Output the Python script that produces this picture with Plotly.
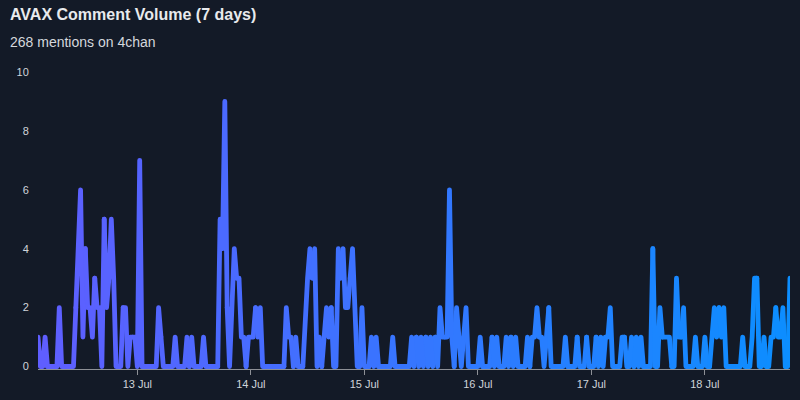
import plotly.graph_objects as go
import pandas as pd

# ---- data (30-minute bins) ----
start_time = "2025-07-12 03:00"
bin_freq = "30min"
values = [
    1, 0, 0, 1, 0, 0, 0, 0, 0, 2, 0, 0, 0, 0, 0, 0,          # k0-15
    2, 4, 6, 1, 4, 2, 2, 1, 3, 2, 2, 0, 5, 2, 3, 5, 3, 0,     # k16-33
    0, 0, 2, 2, 0, 1, 1, 1, 0, 7,                             # k34-43
    0, 0, 0, 0, 0, 0, 0, 2, 1, 0, 0, 0, 0, 0, 1,              # k44-58
    0, 0, 0, 0, 1, 0, 1, 0, 0, 0, 0, 1,                       # k59-70
    0, 0, 0, 0, 0, 0, 5, 4, 9, 2, 0, 2, 4, 3, 3,              # k71-85
    1, 1, 0, 1, 1, 1, 2, 1, 2,                                # k86-94
    0, 0, 0, 0, 0, 0, 0, 0, 0, 0, 2, 1, 1, 0, 1,              # k95-109
    0, 0, 0, 2, 3, 4, 3, 4, 0, 1, 0, 1, 2, 1, 2, 0,           # k110-125
    0, 4, 3, 4, 2, 2, 3, 4, 2, 0, 0, 2, 0, 0, 0, 1, 0, 1,     # k126-143
    0, 0, 0, 0, 0, 0, 1, 0, 0, 0, 0, 0, 0, 0,                 # k144-157
    1, 0, 1, 0, 1, 0, 1, 0, 1, 0, 1, 0,                       # k158-169
    2, 1, 1, 1, 6, 1, 0, 2, 1, 0, 1, 2,                       # k170-181
    0, 0, 0, 0, 0, 1, 0, 0, 0, 0,                             # k182-191
    1, 0, 1, 0, 0, 0, 1, 0, 1, 0, 1,                          # k192-202
    0, 0, 0, 0, 1, 0, 1, 1, 2, 1, 1, 0, 1, 2,                 # k203-216
    0, 0, 0, 0, 0, 0, 1, 0, 0, 0, 0, 1, 0, 0, 0, 1,           # k217-232
    0, 0, 0, 1, 0, 1, 0, 1, 1, 2, 0, 0, 0, 0,                 # k233-246
    1, 1, 0, 0, 1, 0, 1, 0, 1, 0, 0, 0, 0,                    # k247-259
    4, 0, 0, 2, 1, 1, 1, 1, 0, 0, 3, 1, 1, 2,                 # k260-273
    0, 0, 0, 0, 1, 0, 0, 0, 1, 0, 0, 1, 2, 1, 2, 1, 2,        # k274-290
    0, 0, 0, 0, 0, 0, 0, 1, 0, 0, 0, 1, 3, 3,                 # k291-304
    0, 0, 1, 0, 0, 1, 1, 2, 1, 1, 2, 0, 0, 3,                 # k305-318
]
title_text = "AVAX Comment Volume (7 days)"
subtitle_text = "268 mentions on 4chan"
y_ticks = [0, 2, 4, 6, 8, 10]

times = pd.date_range(start_time, periods=len(values), freq=bin_freq)

# ---- styling ----
BG = "#131a27"
C_START = (96, 94, 255)
C_END = (12, 142, 255)
LINE_W = 4.8

fig = go.Figure()
n = len(values)
step = 4
for i in range(0, n - 1, step):
    j = min(i + step, n - 1)
    f = ((i + j) / 2) / (n - 1)
    col = tuple(round(C_START[c] + (C_END[c] - C_START[c]) * f) for c in range(3))
    fig.add_trace(go.Scatter(
        x=times[i:j + 1], y=values[i:j + 1], mode="lines",
        line=dict(color="rgb(%d,%d,%d)" % col, width=LINE_W),
        hoverinfo="skip", showlegend=False,
    ))

fig.update_layout(
    width=800, height=400,
    paper_bgcolor=BG, plot_bgcolor=BG,
    margin=dict(l=38, r=10, t=72, b=31),
    font=dict(family="Liberation Sans, Arial, sans-serif", color="#d0d4da"),
    title=dict(
        text="<b>%s</b>" % title_text,
        x=10 / 800, xref="container", xanchor="left",
        y=1 - 14 / 400, yref="container", yanchor="middle",
        font=dict(size=16, color="#e8eaed"),
    ),
    annotations=[dict(
        text=subtitle_text, showarrow=False,
        xref="paper", yref="paper",
        x=(8 - 38) / 752, y=(369 - 42) / 297,
        xanchor="left", yanchor="middle",
        font=dict(size=14, color="#d5d8dd"),
    )],
    showlegend=False,
)
fig.update_xaxes(
    range=[times[0], times[-1]],
    showgrid=False, zeroline=False,
    showline=True, linecolor="#8d9096", linewidth=1,
    ticks="outside", ticklen=5, tickcolor="#8d9096",
    tick0="2025-07-13", dtick=86400000, tickformat="%-d %b",
    tickfont=dict(size=11, color="#d0d4da"),
)
fig.update_yaxes(
    range=[-0.085, 10], tickvals=y_ticks,
    showgrid=False, zeroline=False, showline=False,
    ticks="outside", ticklen=6, tickcolor="rgba(0,0,0,0)",
    tickfont=dict(size=11, color="#d0d4da"),
)

post = ("document.querySelectorAll('.scatterlayer .js-line').forEach(function(p){"
        "p.style.strokeLinejoin='round';p.style.strokeLinecap='round';});")
fig.write_html("out.html", post_script=post)
